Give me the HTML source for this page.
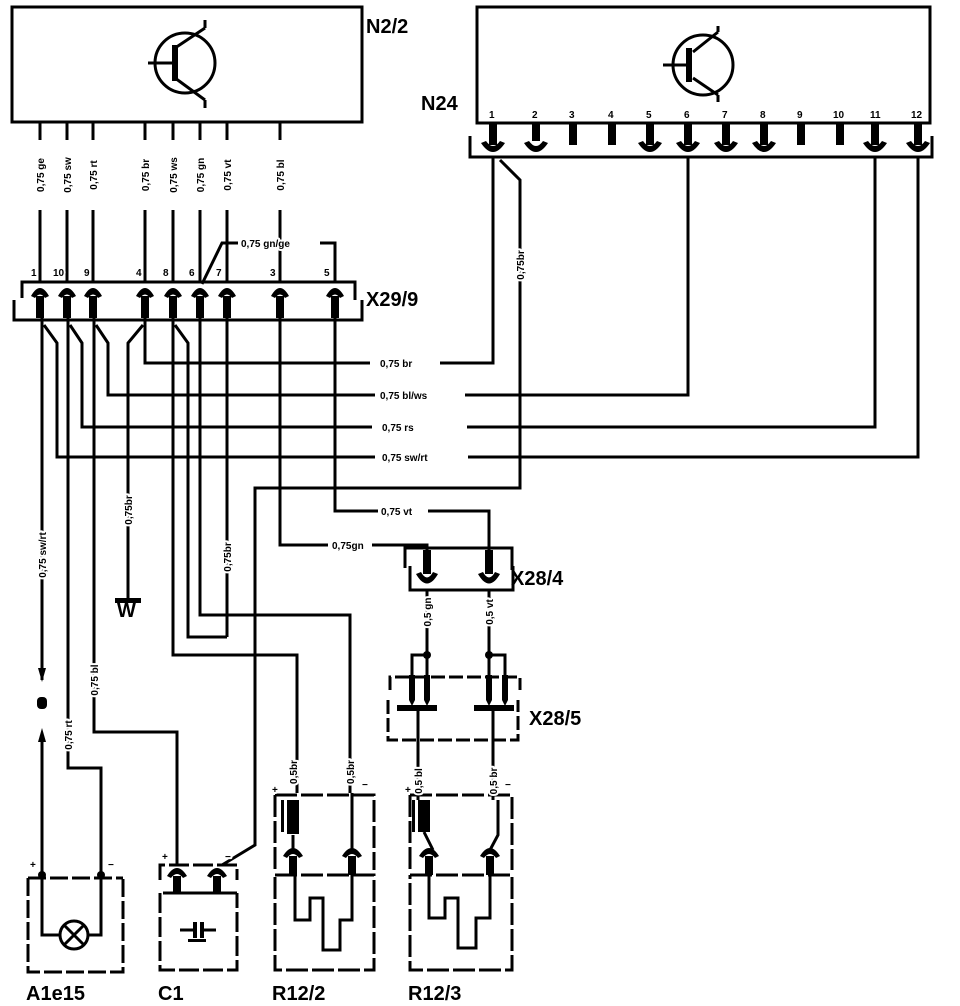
<!DOCTYPE html>
<html><head><meta charset="utf-8"><style>
html,body{margin:0;padding:0;background:#fff;}
svg{display:block;}
text{font-family:"Liberation Sans",sans-serif;font-weight:bold;fill:#000;}
.s{font-size:10px;}
.s text{stroke:#fff;stroke-width:4px;paint-order:stroke;stroke-linejoin:round;}
.b{font-size:20px;}
</style></head><body>
<svg width="960" height="1006" viewBox="0 0 960 1006" xmlns="http://www.w3.org/2000/svg">
<g fill="none" stroke="#000" stroke-width="3">
<!-- N2/2 box -->
<path d="M12 7 H362 V122 H12 Z"/>
<circle cx="185" cy="63" r="30"/>
<path d="M148 63 H172 M175 78 L205 100 M175 48 L205 28 M205 28 V20 M205 100 V108"/>
<!-- N24 box -->
<path d="M477 7 H930 V123 H477 Z"/>
<path d="M470 136 V157 H932 V136"/>
<circle cx="703" cy="65" r="30"/>
<path d="M663 65 H690 M693 78 L718 95 M693 52 L718 32 M718 32 V26 M718 95 V102"/>
<!-- wires N2/2 to X29/9 -->
<path d="M40 122 V140 M40 210 V282 M67 122 V140 M67 210 V282 M93 122 V140 M93 210 V282 M145 122 V140 M145 210 V282 M173 122 V140 M173 210 V282 M200 122 V140 M200 210 V282 M227 122 V140 M227 210 V282 M280 122 V140 M280 210 V282"/>
<path d="M202 284 L222 243 H238 M320 243 H335 V282"/>
<!-- X29/9 -->
<path d="M22 298 V282 H355 V300 M14 300 V320 H362 V300"/>
<!-- below X29/9 -->
<path d="M42 318 V680 M44 325 L57 343 V457 H375 M468 457 H918 V157"/>
<path d="M68 318 V768 H101 V875 M70 325 L82 343 V427 H372 M467 427 H875 V157"/>
<path d="M94 318 V732 H177 V860 M96 325 L108 343 V395 H375 M465 395 H688 V157"/>
<path d="M145 318 V363 H370 M440 363 H493 V157 M143 325 L128 343 V598"/>
<path d="M173 318 V655 H297 V793 M175 325 L188 343 V637 H227"/>
<path d="M200 318 V615 H350 V793"/>
<path d="M227 318 V637"/>
<path d="M280 318 V545 H328 M372 545 H427 V552"/>
<path d="M335 318 V511 H378 M428 511 H489 V552"/>
<path d="M500 160 L520 180 V488 H255 V845 L222 865"/>
<!-- X28/4 -->
<path d="M405 568 V548 H512 V570 M410 566 V590 H513 V566"/>
<path d="M427 590 V655 H412 V675 M427 655 V675 M489 590 V655 H505 V675 M489 655 V675"/>
<!-- X28/5 -->
<path d="M390 690 V677 H520 V690 M388 700 V740 H518 V700" stroke-dasharray="14 4"/>
<path d="M418 708 V800 M493 708 V800"/>
<!-- A1e15 -->
<path d="M28 878 H123 M28 878 V972 H123 V878" stroke-dasharray="18 4"/>
<path d="M42 735 V935 H60 M88 935 H101 V875"/>
<circle cx="74" cy="935" r="14"/>
<path d="M64 925 L84 945 M84 925 L64 945"/>
<!-- C1 -->
<path d="M160 880 V865 H237 V880 M160 893 V970 H237 V893" stroke-dasharray="20 4"/>
<path d="M177 860 V866 M163 893 H237"/>
<path d="M180 930 H193 M204 930 H216"/>
<!-- R12/2 -->
<path d="M275 795 H374 V870 M275 795 V870 M275 875 H374 V970 H275 V875" stroke-dasharray="22 4"/>
<path d="M293 835 V850 M352 793 V850"/>
<path d="M295 870 V920 H310 V898 H323 V950 H340 V920 H352 V870"/>
<!-- R12/3 -->
<path d="M410 795 H512 V870 M410 795 V870 M410 875 H512 V970 H410 V875" stroke-dasharray="22 4"/>
<path d="M424 832 L433 850 M498 800 V835 L490 850"/>
<path d="M429 870 V918 H445 V898 H458 V948 H476 V918 H490 V870"/>
</g>
<g fill="#000">
<path d="M31 296 Q40 280 49 296 L45 298 Q40 291 35 298Z"/><rect x="36" y="296" width="8" height="22"/>
<path d="M58 296 Q67 280 76 296 L72 298 Q67 291 62 298Z"/><rect x="63" y="296" width="8" height="22"/>
<path d="M84 296 Q93 280 102 296 L98 298 Q93 291 88 298Z"/><rect x="89" y="296" width="8" height="22"/>
<path d="M136 296 Q145 280 154 296 L150 298 Q145 291 140 298Z"/><rect x="141" y="296" width="8" height="22"/>
<path d="M164 296 Q173 280 182 296 L178 298 Q173 291 168 298Z"/><rect x="169" y="296" width="8" height="22"/>
<path d="M191 296 Q200 280 209 296 L205 298 Q200 291 195 298Z"/><rect x="196" y="296" width="8" height="22"/>
<path d="M218 296 Q227 280 236 296 L232 298 Q227 291 222 298Z"/><rect x="223" y="296" width="8" height="22"/>
<path d="M271 296 Q280 280 289 296 L285 298 Q280 291 275 298Z"/><rect x="276" y="296" width="8" height="22"/>
<path d="M326 296 Q335 280 344 296 L340 298 Q335 291 330 298Z"/><rect x="331" y="296" width="8" height="22"/>
<!-- N24 pins -->
<rect x="489" y="123" width="8" height="22"/><path d="M481 143 Q493 161 505 143 L500 141 Q493 151 486 141Z"/>
<rect x="532" y="123" width="8" height="18"/><path d="M524 143 Q536 161 548 143 L543 141 Q536 151 529 141Z"/>
<rect x="569" y="123" width="8" height="22"/>
<rect x="608" y="123" width="8" height="22"/>
<rect x="646" y="123" width="8" height="22"/><path d="M638 143 Q650 161 662 143 L657 141 Q650 151 643 141Z"/>
<rect x="684" y="123" width="8" height="22"/><path d="M676 143 Q688 161 700 143 L695 141 Q688 151 681 141Z"/>
<rect x="722" y="123" width="8" height="22"/><path d="M714 143 Q726 161 738 143 L733 141 Q726 151 719 141Z"/>
<rect x="760" y="123" width="8" height="22"/><path d="M752 143 Q764 161 776 143 L771 141 Q764 151 757 141Z"/>
<rect x="797" y="123" width="8" height="22"/>
<rect x="836" y="123" width="8" height="22"/>
<rect x="871" y="123" width="8" height="22"/><path d="M863 143 Q875 161 887 143 L882 141 Q875 151 868 141Z"/>
<rect x="914" y="123" width="8" height="22"/><path d="M906 143 Q918 161 930 143 L925 141 Q918 151 911 141Z"/>
<rect x="172" y="45" width="6" height="36"/>
<rect x="686" y="48" width="6" height="34"/>
<!-- X28/4 pins -->
<rect x="423" y="550" width="8" height="24"/><path d="M416 574 Q427 593 438 574 L433 572 Q427 583 421 572Z"/>
<rect x="485" y="550" width="8" height="24"/><path d="M478 574 Q489 593 500 574 L495 572 Q489 583 483 572Z"/>
<circle cx="427" cy="655" r="4"/><circle cx="489" cy="655" r="4"/>
<path d="M409 675 H415 V700 L412 706 L409 700Z M424 675 H430 V700 L427 706 L424 700Z M486 675 H492 V700 L489 706 L486 700Z M502 675 H508 V700 L505 706 L502 700Z"/>
<rect x="397" y="705" width="40" height="6"/><rect x="474" y="705" width="40" height="6"/>
<rect x="115" y="598" width="26" height="5"/>
<path d="M38 668 H46 L42 682Z"/><rect x="37" y="697" width="10" height="12" rx="4"/><path d="M38 742 H46 L42 728Z"/>
<circle cx="42" cy="875" r="4"/><circle cx="101" cy="875" r="4"/>
<path d="M167 876 Q177 860 187 876 L183 878 Q177 870 171 878Z"/><rect x="173" y="876" width="8" height="17"/>
<path d="M207 876 Q217 860 227 876 L223 878 Q217 870 211 878Z"/><rect x="213" y="876" width="8" height="17"/>
<rect x="193" y="922" width="4" height="16"/><rect x="200" y="922" width="4" height="16"/><rect x="188" y="939" width="18" height="3"/>
<rect x="287" y="800" width="12" height="34"/><rect x="281" y="800" width="3" height="32"/>
<path d="M283 856 Q293 840 303 856 L299 858 Q293 850 287 858Z"/><rect x="289" y="856" width="8" height="19"/>
<path d="M342 856 Q352 840 362 856 L358 858 Q352 850 346 858Z"/><rect x="348" y="856" width="8" height="19"/>
<rect x="418" y="800" width="12" height="32"/><rect x="412" y="800" width="3" height="32"/>
<path d="M419 856 Q429 840 439 856 L435 858 Q429 850 423 858Z"/><rect x="425" y="856" width="8" height="19"/>
<path d="M480 856 Q490 840 500 856 L496 858 Q490 850 484 858Z"/><rect x="486" y="856" width="8" height="19"/>
</g>
<text class="b" x="366" y="33">N2/2</text>
<text class="b" x="421" y="110">N24</text>
<text class="b" x="366" y="306">X29/9</text>
<text class="b" x="511" y="585">X28/4</text>
<text class="b" x="529" y="725">X28/5</text>
<text class="b" x="117" y="617">W</text>
<text class="b" x="26" y="1000">A1e15</text>
<text class="b" x="158" y="1000">C1</text>
<text class="b" x="272" y="1000">R12/2</text>
<text class="b" x="408" y="1000">R12/3</text>
<g class="s">
<text x="31" y="276">1</text><text x="53" y="276">10</text><text x="84" y="276">9</text><text x="136" y="276">4</text><text x="163" y="276">8</text><text x="189" y="276">6</text><text x="216" y="276">7</text><text x="270" y="276">3</text><text x="324" y="276">5</text>
<text x="489" y="118">1</text><text x="532" y="118">2</text><text x="569" y="118">3</text><text x="608" y="118">4</text><text x="646" y="118">5</text><text x="684" y="118">6</text><text x="722" y="118">7</text><text x="760" y="118">8</text><text x="797" y="118">9</text><text x="833" y="118">10</text><text x="870" y="118">11</text><text x="911" y="118">12</text>
<text x="241" y="247">0,75 gn/ge</text>
<text x="380" y="367">0,75 br</text>
<text x="380" y="399">0,75 bl/ws</text>
<text x="382" y="431">0,75 rs</text>
<text x="382" y="461">0,75 sw/rt</text>
<text x="381" y="515">0,75 vt</text>
<text x="332" y="549">0,75gn</text>
<text x="30" y="868">+</text><text x="108" y="868">−</text>
<text x="162" y="860">+</text><text x="225" y="860">−</text>
<text x="272" y="793">+</text><text x="362" y="788">−</text>
<text x="405" y="793">+</text><text x="505" y="788">−</text>
<text transform="translate(44,175) rotate(-90)" text-anchor="middle">0,75 ge</text>
<text transform="translate(71,175) rotate(-90)" text-anchor="middle">0,75 sw</text>
<text transform="translate(97,175) rotate(-90)" text-anchor="middle">0,75 rt</text>
<text transform="translate(149,175) rotate(-90)" text-anchor="middle">0,75 br</text>
<text transform="translate(177,175) rotate(-90)" text-anchor="middle">0,75 ws</text>
<text transform="translate(204,175) rotate(-90)" text-anchor="middle">0,75 gn</text>
<text transform="translate(231,175) rotate(-90)" text-anchor="middle">0,75 vt</text>
<text transform="translate(284,175) rotate(-90)" text-anchor="middle">0,75 bl</text>
<text transform="translate(524,265) rotate(-90)" text-anchor="middle">0,75br</text>
<text transform="translate(46,555) rotate(-90)" text-anchor="middle">0,75 sw/rt</text>
<text transform="translate(132,510) rotate(-90)" text-anchor="middle">0,75br</text>
<text transform="translate(231,557) rotate(-90)" text-anchor="middle">0,75br</text>
<text transform="translate(98,680) rotate(-90)" text-anchor="middle">0,75 bl</text>
<text transform="translate(72,735) rotate(-90)" text-anchor="middle">0,75 rt</text>
<text transform="translate(431,612) rotate(-90)" text-anchor="middle">0,5 gn</text>
<text transform="translate(493,612) rotate(-90)" text-anchor="middle">0,5 vt</text>
<text transform="translate(297,772) rotate(-90)" text-anchor="middle">0,5br</text>
<text transform="translate(354,772) rotate(-90)" text-anchor="middle">0,5br</text>
<text transform="translate(422,781) rotate(-90)" text-anchor="middle">0,5 bl</text>
<text transform="translate(497,781) rotate(-90)" text-anchor="middle">0,5 br</text>
</g>
</svg>
</body></html>
